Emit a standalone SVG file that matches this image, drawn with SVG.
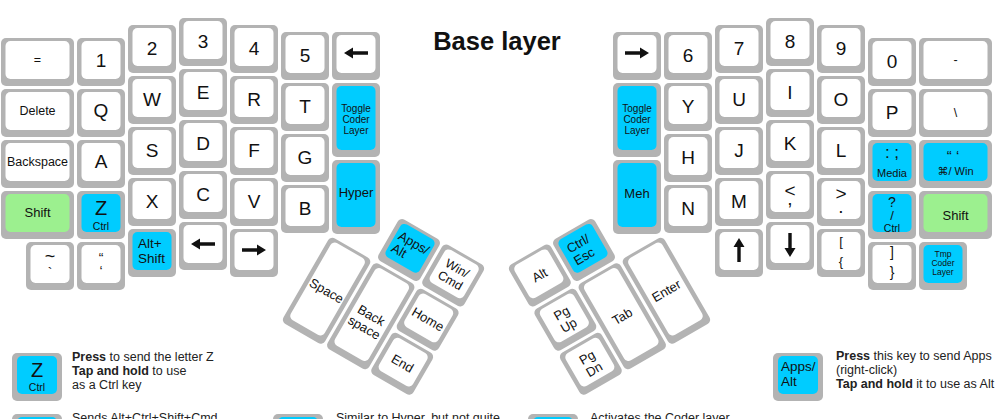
<svg xmlns="http://www.w3.org/2000/svg" xmlns:xlink="http://www.w3.org/1999/xlink" width="1000" height="419" viewBox="0 0 1000 419">
<style>
.o{fill:#b3b3b3;rx:5px;ry:5px}
.f{fill:#fff;rx:5px;ry:5px}
.bl{fill:#00ccff;rx:5px;ry:5px}
.gr{fill:#9cf08f;rx:5px;ry:5px}
text{font-family:"Liberation Sans",Arial,"DejaVu Sans",sans-serif;fill:#111}
.L{font-size:19px;text-anchor:middle}
.s{font-size:12.5px;text-anchor:middle}
.m{font-size:13px;text-anchor:middle}
.ms{font-size:13px}
.t{font-size:10px;text-anchor:middle}
.tt{font-size:8.5px;text-anchor:middle}
.c{font-size:10.5px;text-anchor:middle}
.lg{font-size:12.5px;fill:#222}
.arr{fill:#111}
</style>
<defs>
<path id="arr" d="M-12,0 L-3,-5.5 L-3,-1.7 L12,-1.7 L12,1.7 L-3,1.7 L-3,5.5 Z"/>
</defs>
<rect width="1000" height="419" fill="#fff"/>
<text x="497" y="50" style="font-size:25.5px;font-weight:bold;text-anchor:middle">Base layer</text>

<!-- LEFT HAND -->
<g id="k-eq"><rect class="o" x="1" y="38" width="73" height="48"/><rect class="f" x="5.5" y="41" width="64" height="38"/><text class="s" x="37.5" y="64">=</text></g>
<g id="k-del"><rect class="o" x="1" y="89" width="73" height="48"/><rect class="f" x="5.5" y="92" width="64" height="38"/><text class="s" x="37.5" y="115">Delete</text></g>
<g id="k-bksp"><rect class="o" x="1" y="140" width="73" height="48"/><rect class="f" x="5.5" y="143" width="64" height="38"/><text class="s" x="37.5" y="166">Backspace</text></g>
<g id="k-lshift"><rect class="o" x="1" y="191" width="73" height="48"/><rect class="gr" x="5.5" y="194" width="64" height="38"/><text class="m" x="37.5" y="217">Shift</text></g>
<g id="k-tilde"><rect class="o" x="26" y="242" width="48" height="48"/><rect class="f" x="30.5" y="245" width="39" height="38"/><text style="font-size:18px;text-anchor:middle"><tspan x="50" y="262">~</tspan><tspan x="50" y="278" style="font-size:14px">`</tspan></text></g>

<g id="k-1"><rect class="o" x="77" y="38" width="48" height="48"/><rect class="f" x="81.5" y="41" width="39" height="38"/><text class="L" x="101" y="67">1</text></g>
<g id="k-q"><rect class="o" x="77" y="89" width="48" height="48"/><rect class="f" x="81.5" y="92" width="39" height="38"/><text class="L" x="101" y="117">Q</text></g>
<g id="k-a"><rect class="o" x="77" y="140" width="48" height="48"/><rect class="f" x="81.5" y="143" width="39" height="38"/><text class="L" x="101" y="168">A</text></g>
<g id="k-z"><rect class="o" x="77" y="191" width="48" height="48"/><rect class="bl" x="81.5" y="194" width="39" height="38"/><text x="101" y="215" style="font-size:20px;text-anchor:middle">Z</text><text class="c" x="101" y="230">Ctrl</text></g>
<g id="k-quote-l"><rect class="o" x="77" y="242" width="48" height="48"/><rect class="f" x="81.5" y="245" width="39" height="38"/><text style="font-size:14px;text-anchor:middle"><tspan x="101" y="263">“</tspan><tspan x="101" y="276">‘</tspan></text></g>

<g id="k-2"><rect class="o" x="128" y="25" width="48" height="48"/><rect class="f" x="132.5" y="28" width="39" height="38"/><text class="L" x="152" y="55">2</text></g>
<g id="k-w"><rect class="o" x="128" y="76" width="48" height="48"/><rect class="f" x="132.5" y="79" width="39" height="38"/><text class="L" x="152" y="106">W</text></g>
<g id="k-s"><rect class="o" x="128" y="127" width="48" height="48"/><rect class="f" x="132.5" y="130" width="39" height="38"/><text class="L" x="152" y="157">S</text></g>
<g id="k-x"><rect class="o" x="128" y="178" width="48" height="48"/><rect class="f" x="132.5" y="181" width="39" height="38"/><text class="L" x="152" y="208">X</text></g>
<g id="k-altshift"><rect class="o" x="128" y="229" width="48" height="48"/><rect class="bl" x="132.5" y="232" width="39" height="38"/><text x="138" y="248" style="font-size:13.5px">Alt+</text><text x="138" y="263" style="font-size:13.5px">Shift</text></g>

<g id="k-3"><rect class="o" x="179" y="18" width="48" height="48"/><rect class="f" x="183.5" y="21" width="39" height="38"/><text class="L" x="203" y="48">3</text></g>
<g id="k-e"><rect class="o" x="179" y="69" width="48" height="48"/><rect class="f" x="183.5" y="72" width="39" height="38"/><text class="L" x="203" y="99">E</text></g>
<g id="k-d"><rect class="o" x="179" y="120" width="48" height="48"/><rect class="f" x="183.5" y="123" width="39" height="38"/><text class="L" x="203" y="150">D</text></g>
<g id="k-c"><rect class="o" x="179" y="171" width="48" height="48"/><rect class="f" x="183.5" y="174" width="39" height="38"/><text class="L" x="203" y="201">C</text></g>
<g id="k-left-b"><rect class="o" x="179" y="222" width="48" height="48"/><rect class="f" x="183.5" y="225" width="39" height="38"/><use href="#arr" class="arr" transform="translate(203,244)"/></g>

<g id="k-4"><rect class="o" x="230" y="25" width="48" height="48"/><rect class="f" x="234.5" y="28" width="39" height="38"/><text class="L" x="254" y="55">4</text></g>
<g id="k-r"><rect class="o" x="230" y="76" width="48" height="48"/><rect class="f" x="234.5" y="79" width="39" height="38"/><text class="L" x="254" y="106">R</text></g>
<g id="k-f"><rect class="o" x="230" y="127" width="48" height="48"/><rect class="f" x="234.5" y="130" width="39" height="38"/><text class="L" x="254" y="157">F</text></g>
<g id="k-v"><rect class="o" x="230" y="178" width="48" height="48"/><rect class="f" x="234.5" y="181" width="39" height="38"/><text class="L" x="254" y="208">V</text></g>
<g id="k-right-b"><rect class="o" x="230" y="229" width="48" height="48"/><rect class="f" x="234.5" y="232" width="39" height="38"/><use href="#arr" class="arr" transform="translate(254,250) rotate(180)"/></g>

<g id="k-5"><rect class="o" x="281" y="32" width="48" height="48"/><rect class="f" x="285.5" y="35" width="39" height="38"/><text class="L" x="305" y="62">5</text></g>
<g id="k-t"><rect class="o" x="281" y="83" width="48" height="48"/><rect class="f" x="285.5" y="86" width="39" height="38"/><text class="L" x="305" y="113">T</text></g>
<g id="k-g"><rect class="o" x="281" y="134" width="48" height="48"/><rect class="f" x="285.5" y="137" width="39" height="38"/><text class="L" x="305" y="164">G</text></g>
<g id="k-b"><rect class="o" x="281" y="185" width="48" height="48"/><rect class="f" x="285.5" y="188" width="39" height="38"/><text class="L" x="305" y="215">B</text></g>

<g id="k-left-t"><rect class="o" x="332" y="32" width="48" height="48"/><rect class="f" x="336.5" y="35" width="39" height="38"/><use href="#arr" class="arr" transform="translate(356,53)"/></g>
<g id="k-toggle-l"><rect class="o" x="332" y="83" width="48" height="74"/><rect class="bl" x="336.5" y="86" width="39" height="64"/><text class="t" x="356" y="112">Toggle</text><text class="t" x="356" y="123">Coder</text><text class="t" x="356" y="134">Layer</text></g>
<g id="k-hyper"><rect class="o" x="332" y="160" width="48" height="74"/><rect class="bl" x="336.5" y="163" width="39" height="64"/><text class="m" x="356" y="197">Hyper</text></g>

<!-- RIGHT HAND -->
<g id="k-right-t"><rect class="o" x="613" y="32" width="48" height="48"/><rect class="f" x="617.5" y="35" width="39" height="38"/><use href="#arr" class="arr" transform="translate(637,53) rotate(180)"/></g>
<g id="k-toggle-r"><rect class="o" x="613" y="83" width="48" height="74"/><rect class="bl" x="617.5" y="86" width="39" height="64"/><text class="t" x="637" y="112">Toggle</text><text class="t" x="637" y="123">Coder</text><text class="t" x="637" y="134">Layer</text></g>
<g id="k-meh"><rect class="o" x="613" y="160" width="48" height="74"/><rect class="bl" x="617.5" y="163" width="39" height="64"/><text class="m" x="637" y="198">Meh</text></g>

<g id="k-6"><rect class="o" x="664" y="32" width="48" height="48"/><rect class="f" x="668.5" y="35" width="39" height="38"/><text class="L" x="688" y="62">6</text></g>
<g id="k-y"><rect class="o" x="664" y="83" width="48" height="48"/><rect class="f" x="668.5" y="86" width="39" height="38"/><text class="L" x="688" y="113">Y</text></g>
<g id="k-h"><rect class="o" x="664" y="134" width="48" height="48"/><rect class="f" x="668.5" y="137" width="39" height="38"/><text class="L" x="688" y="164">H</text></g>
<g id="k-n"><rect class="o" x="664" y="185" width="48" height="48"/><rect class="f" x="668.5" y="188" width="39" height="38"/><text class="L" x="688" y="215">N</text></g>

<g id="k-7"><rect class="o" x="715" y="25" width="48" height="48"/><rect class="f" x="719.5" y="28" width="39" height="38"/><text class="L" x="739" y="55">7</text></g>
<g id="k-u"><rect class="o" x="715" y="76" width="48" height="48"/><rect class="f" x="719.5" y="79" width="39" height="38"/><text class="L" x="739" y="106">U</text></g>
<g id="k-j"><rect class="o" x="715" y="127" width="48" height="48"/><rect class="f" x="719.5" y="130" width="39" height="38"/><text class="L" x="739" y="157">J</text></g>
<g id="k-m"><rect class="o" x="715" y="178" width="48" height="48"/><rect class="f" x="719.5" y="181" width="39" height="38"/><text class="L" x="739" y="208">M</text></g>
<g id="k-up"><rect class="o" x="715" y="229" width="48" height="48"/><rect class="f" x="719.5" y="232" width="39" height="38"/><use href="#arr" class="arr" transform="translate(739,250) rotate(90)"/></g>

<g id="k-8"><rect class="o" x="766" y="18" width="48" height="48"/><rect class="f" x="770.5" y="21" width="39" height="38"/><text class="L" x="790" y="48">8</text></g>
<g id="k-i"><rect class="o" x="766" y="69" width="48" height="48"/><rect class="f" x="770.5" y="72" width="39" height="38"/><text class="L" x="790" y="99">I</text></g>
<g id="k-k"><rect class="o" x="766" y="120" width="48" height="48"/><rect class="f" x="770.5" y="123" width="39" height="38"/><text class="L" x="790" y="150">K</text></g>
<g id="k-comma"><rect class="o" x="766" y="171" width="48" height="48"/><rect class="f" x="770.5" y="174" width="39" height="38"/><text class="L"><tspan x="790" y="197">&lt;</tspan><tspan x="790" y="205">,</tspan></text></g>
<g id="k-down"><rect class="o" x="766" y="222" width="48" height="48"/><rect class="f" x="770.5" y="225" width="39" height="38"/><use href="#arr" class="arr" transform="translate(790,245) rotate(-90)"/></g>

<g id="k-9"><rect class="o" x="817" y="25" width="48" height="48"/><rect class="f" x="821.5" y="28" width="39" height="38"/><text class="L" x="841" y="55">9</text></g>
<g id="k-o"><rect class="o" x="817" y="76" width="48" height="48"/><rect class="f" x="821.5" y="79" width="39" height="38"/><text class="L" x="841" y="106">O</text></g>
<g id="k-l"><rect class="o" x="817" y="127" width="48" height="48"/><rect class="f" x="821.5" y="130" width="39" height="38"/><text class="L" x="841" y="157">L</text></g>
<g id="k-period"><rect class="o" x="817" y="178" width="48" height="48"/><rect class="f" x="821.5" y="181" width="39" height="38"/><text class="L"><tspan x="841" y="200">&gt;</tspan><tspan x="841" y="213">.</tspan></text></g>
<g id="k-lbracket"><rect class="o" x="817" y="229" width="48" height="48"/><rect class="f" x="821.5" y="232" width="39" height="38"/><text x="841" y="246" style="font-size:13px;text-anchor:middle">[</text><text x="841" y="266" style="font-size:13px;text-anchor:middle">{</text></g>

<g id="k-0"><rect class="o" x="868" y="38" width="48" height="48"/><rect class="f" x="872.5" y="41" width="39" height="38"/><text class="L" x="892" y="68">0</text></g>
<g id="k-p"><rect class="o" x="868" y="89" width="48" height="48"/><rect class="f" x="872.5" y="92" width="39" height="38"/><text class="L" x="892" y="119">P</text></g>
<g id="k-semicolon"><rect class="o" x="868" y="140" width="48" height="48"/><rect class="bl" x="872.5" y="143" width="39" height="38"/><text x="892" y="158" style="font-size:17px;text-anchor:middle">: ;</text><text x="892" y="177" style="font-size:11px;text-anchor:middle">Media</text></g>
<g id="k-slash"><rect class="o" x="868" y="191" width="48" height="48"/><rect class="bl" x="872.5" y="194" width="39" height="38"/><text x="892" y="207" style="font-size:14px;text-anchor:middle">?</text><text x="892" y="220" style="font-size:13px;text-anchor:middle">/</text><text class="c" x="892" y="232">Ctrl</text></g>
<g id="k-rbracket"><rect class="o" x="868" y="242" width="48" height="48"/><rect class="f" x="872.5" y="245" width="39" height="38"/><text x="892" y="257" style="font-size:14px;text-anchor:middle">]</text><text x="892" y="277" style="font-size:14px;text-anchor:middle">}</text></g>

<g id="k-minus"><rect class="o" x="919" y="38" width="73" height="48"/><rect class="f" x="923.5" y="41" width="64" height="38"/><text class="s" x="955.5" y="64">-</text></g>
<g id="k-backslash"><rect class="o" x="919" y="89" width="73" height="48"/><rect class="f" x="923.5" y="92" width="64" height="38"/><text class="s" x="955.5" y="117">\</text></g>
<g id="k-quote-r"><rect class="o" x="919" y="140" width="73" height="48"/><rect class="bl" x="923.5" y="143" width="64" height="38"/><text x="953" y="161" style="font-size:15px;text-anchor:middle">“ ‘</text><text x="955.5" y="175" style="font-size:11px;text-anchor:middle">⌘/ Win</text></g>
<g id="k-rshift"><rect class="o" x="919" y="191" width="73" height="48"/><rect class="gr" x="923.5" y="194" width="64" height="38"/><text class="m" x="955.5" y="220">Shift</text></g>
<g id="k-tmp"><rect class="o" x="919" y="242" width="48" height="48"/><rect class="bl" x="923.5" y="245" width="39" height="38"/><text class="tt" x="943" y="257">Tmp</text><text class="tt" x="943" y="266">Coder</text><text class="tt" x="943" y="275">Layer</text></g>

<!-- LEFT THUMB CLUSTER -->
<g id="thumb-left" transform="translate(409,250) rotate(30)">
<g id="k-apps"><rect class="o" x="-24" y="-24" width="48" height="48"/><rect class="bl" x="-19.5" y="-21" width="39" height="38"/><text class="ms" x="-16" y="-4">Apps/</text><text class="ms" x="-16" y="10">Alt</text></g>
<g id="k-win"><rect class="o" x="27" y="-24" width="48" height="48"/><rect class="f" x="31.5" y="-21" width="39" height="38"/><text class="s" x="51" y="-4">Win/</text><text class="s" x="51" y="10">Cmd</text></g>
<g id="k-space"><rect class="o" x="-75" y="27" width="48" height="99"/><rect class="f" x="-70.5" y="30" width="39" height="89"/><text class="m" x="-51" y="81">Space</text></g>
<g id="k-backspace"><rect class="o" x="-24" y="27" width="48" height="99"/><rect class="f" x="-19.5" y="30" width="39" height="89"/><text class="m" x="0" y="80">Back</text><text class="m" x="0" y="94">space</text></g>
<g id="k-home"><rect class="o" x="27" y="27" width="48" height="48"/><rect class="f" x="31.5" y="30" width="39" height="38"/><text class="m" x="51" y="55">Home</text></g>
<g id="k-end"><rect class="o" x="27" y="78" width="48" height="48"/><rect class="f" x="31.5" y="81" width="39" height="38"/><text class="m" x="51" y="106">End</text></g>
</g>

<!-- RIGHT THUMB CLUSTER -->
<g id="thumb-right" transform="translate(584,250) rotate(-30)">
<g id="k-ctrlesc"><rect class="o" x="-24" y="-24" width="48" height="48"/><rect class="bl" x="-19.5" y="-21" width="39" height="38"/><text class="ms" x="-14" y="-4">Ctrl/</text><text class="ms" x="-14" y="10">Esc</text></g>
<g id="k-alt"><rect class="o" x="-75" y="-24" width="48" height="48"/><rect class="f" x="-70.5" y="-21" width="39" height="38"/><text class="m" x="-51" y="4">Alt</text></g>
<g id="k-pgup"><rect class="o" x="-75" y="27" width="48" height="48"/><rect class="f" x="-70.5" y="30" width="39" height="38"/><text class="m" x="-51" y="48">Pg</text><text class="m" x="-51" y="62">Up</text></g>
<g id="k-pgdn"><rect class="o" x="-75" y="78" width="48" height="48"/><rect class="f" x="-70.5" y="81" width="39" height="38"/><text class="m" x="-51" y="99">Pg</text><text class="m" x="-51" y="113">Dn</text></g>
<g id="k-tab"><rect class="o" x="-24" y="27" width="48" height="99"/><rect class="f" x="-19.5" y="30" width="39" height="89"/><text class="m" x="0" y="81">Tab</text></g>
<g id="k-enter"><rect class="o" x="27" y="27" width="48" height="99"/><rect class="f" x="31.5" y="30" width="39" height="89"/><text class="m" x="51" y="81">Enter</text></g>
</g>

<!-- LEGEND -->
<g id="legend-z">
<rect class="o" x="12" y="353" width="50" height="48"/><rect class="bl" x="17" y="356" width="40" height="38"/>
<text x="37" y="377" style="font-size:20px;text-anchor:middle">Z</text><text class="c" x="37" y="391">Ctrl</text>
<text class="lg" x="72" y="361"><tspan font-weight="bold">Press</tspan> to send the letter Z</text>
<text class="lg" x="72" y="375"><tspan font-weight="bold">Tap and hold</tspan> to use</text>
<text class="lg" x="72" y="389">as a Ctrl key</text>
</g>
<g id="legend-apps">
<rect class="o" x="773" y="353" width="50" height="48"/><rect class="bl" x="778" y="356" width="40" height="38"/>
<text x="781" y="371" style="font-size:13.5px">Apps/</text><text x="781" y="386" style="font-size:13.5px">Alt</text>
<text class="lg" x="836" y="360"><tspan font-weight="bold">Press</tspan> this key to send Apps</text>
<text class="lg" x="836" y="374">(right-click)</text>
<text class="lg" x="836" y="388"><tspan font-weight="bold">Tap and hold</tspan> it to use as Alt</text>
</g>
<g id="legend-hyper">
<rect class="o" x="12" y="414" width="50" height="48"/><rect class="bl" x="17" y="417" width="40" height="38"/>
<text class="lg" x="72" y="422">Sends Alt+Ctrl+Shift+Cmd</text>
</g>
<g id="legend-meh">
<rect class="o" x="273" y="414" width="50" height="48"/><rect class="bl" x="278" y="417" width="40" height="38"/>
<text class="lg" x="336" y="422">Similar to Hyper, but not quite</text>
</g>
<g id="legend-toggle">
<rect class="o" x="528" y="414" width="50" height="48"/><rect class="bl" x="533" y="417" width="40" height="38"/>
<text class="lg" x="590" y="422">Activates the Coder layer</text>
</g>
</svg>
